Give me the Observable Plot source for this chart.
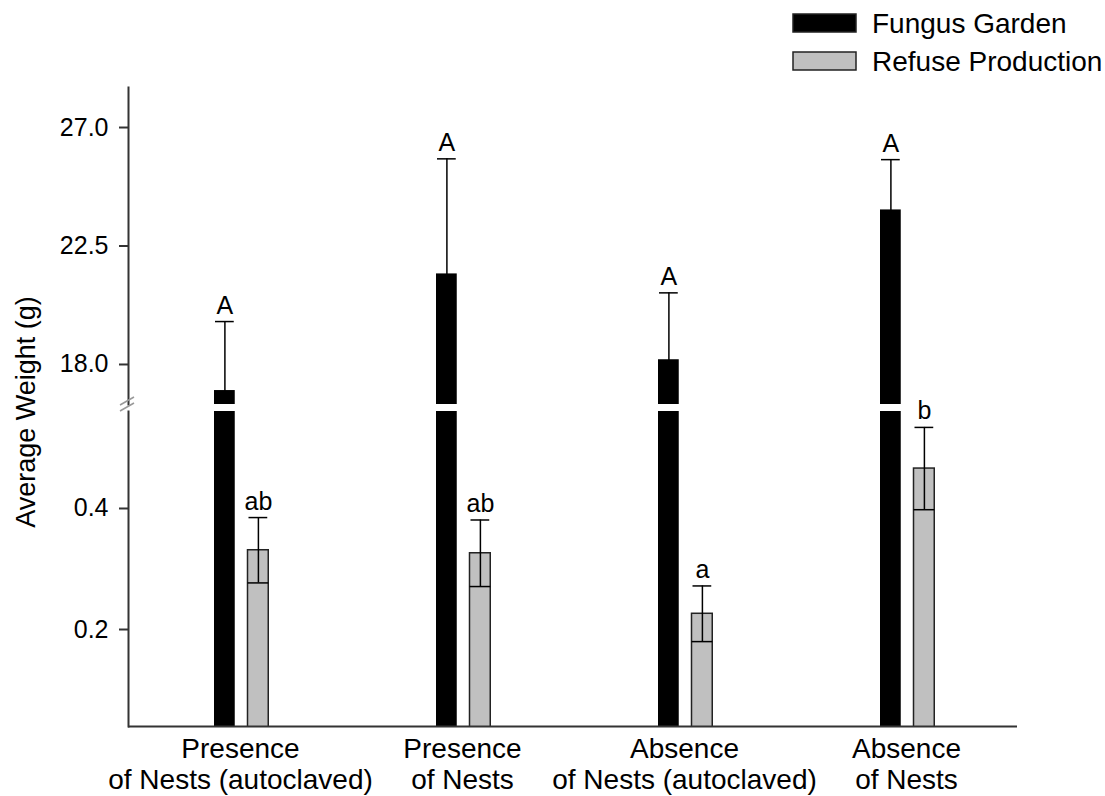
<!DOCTYPE html>
<html>
<head>
<meta charset="utf-8">
<script src="https://cdn.jsdelivr.net/npm/d3@7"></script>
<script src="https://cdn.jsdelivr.net/npm/@observablehq/plot@0.6"></script>
<style>
  body { margin: 0; background: #fff; }
  #wrap { position: relative; width: 1105px; height: 796px; font-family: "Liberation Sans", Arial, sans-serif; background: #fff; overflow: hidden; }
  #upper { position: absolute; left: 0; top: 0; }
  #lower { position: absolute; left: 0; top: 411px; }
  #overlay { position: absolute; left: 0; top: 0; pointer-events: none; }
</style>
</head>
<body>
<div id="wrap">
  <div id="upper"></div>
  <div id="lower"></div>
  <svg id="overlay" width="1105" height="796"></svg>
</div>
<script>
// ---- data ----
const categories = [
  "Presence\nof Nests (autoclaved)",
  "Presence\nof Nests",
  "Absence\nof Nests (autoclaved)",
  "Absence\nof Nests"
];
const seriesNames = ["Fungus Garden", "Refuse Production"];
const fungusMean = [17.01, 21.44, 18.18, 23.87];
const fungusSE = [2.62, 4.37, 2.54, 1.91];
const fungusLetters = ["A", "A", "A", "A"];
const refuseMean = [0.331, 0.326, 0.226, 0.466];
const refuseSE = [0.054, 0.055, 0.046, 0.068];
const refuseLetters = ["ab", "ab", "a", "b"];
const upperTicks = [18.0, 22.5, 27.0];
const lowerTicks = [0.2, 0.4];
const upperDomain = [16.48, 28.52];
const lowerDomain = [0.0397, 0.5603];
const yLabel = "Average Weight (g)";

// ---- tables ----
const fungus = categories.map((c, i) => ({cat: c, mean: fungusMean[i], se: fungusSE[i], letter: fungusLetters[i]}));
const refuse = categories.map((c, i) => ({cat: c, mean: refuseMean[i], se: refuseSE[i], letter: refuseLetters[i]}));

const FONT = '"Liberation Sans", Arial, sans-serif';
const AXIS = "#333";
const GREY = "#c0c0c0";
const W = 1105;
const common = {
  width: W,
  marginLeft: 128,
  marginRight: 88,
  x: {type: "band", domain: categories, padding: 0},
  style: {fontFamily: FONT, fontSize: "25px", color: "#000", background: "transparent", overflow: "visible"}
};
// bar placement inside each category band (band width ~222)
const fIn = {insetLeft: 85, insetRight: 116.25};
const rIn = {insetLeft: 118.5, insetRight: 82.75};
const fDx = -15.6, rDx = 17.9;

const upper = Plot.plot({
  ...common,
  height: 404,
  marginTop: 87,
  marginBottom: 0,
  y: {domain: upperDomain},
  marks: [
    Plot.barY(fungus, {x: "cat", y1: 0, y2: "mean", fill: "#000", ...fIn, clip: true}),
    Plot.ruleX(fungus, {x: "cat", y1: d => d.mean - d.se, y2: d => d.mean + d.se, dx: fDx, stroke: "#000", strokeWidth: 1.5, clip: true}),
    Plot.tickY(fungus, {x: "cat", y: d => d.mean + d.se, insetLeft: 86, insetRight: 117.25, stroke: "#000", strokeWidth: 1.5}),
    Plot.text(fungus, {x: "cat", y: d => d.mean + d.se, text: "letter", dx: fDx, dy: -8, lineAnchor: "bottom", fontSize: 25}),
    Plot.frame({anchor: "left", stroke: AXIS, strokeWidth: 2}),
    Plot.axisY({ticks: upperTicks, tickFormat: d3.format(".1f"), tickSize: 9, tickPadding: 11, fontSize: 25, stroke: AXIS, strokeWidth: 2, label: null}),
    Plot.axisX({ticks: [], label: null})
  ]
});
document.getElementById("upper").appendChild(upper);

const lower = Plot.plot({
  ...common,
  height: 385,
  marginTop: 0,
  marginBottom: 70,
  y: {domain: lowerDomain},
  marks: [
    Plot.barY(fungus, {x: "cat", y1: 0, y2: "mean", fill: "#000", ...fIn, clip: true}),
    Plot.barY(refuse, {x: "cat", y1: 0, y2: "mean", fill: GREY, stroke: "#222", strokeWidth: 1.5, ...rIn, clip: true}),
    Plot.ruleX(refuse, {x: "cat", y1: d => d.mean - d.se, y2: d => d.mean + d.se, dx: rDx, stroke: "#000", strokeWidth: 1.5}),
    Plot.tickY(refuse, {x: "cat", y: d => d.mean + d.se, insetLeft: 119.5, insetRight: 83.75, stroke: "#000", strokeWidth: 1.5}),
    Plot.tickY(refuse, {x: "cat", y: d => d.mean - d.se, insetLeft: 118.5, insetRight: 82.75, stroke: "#000", strokeWidth: 1.5}),
    Plot.text(refuse, {x: "cat", y: d => d.mean + d.se, text: "letter", dx: rDx, dy: -8, lineAnchor: "bottom", fontSize: 25}),
    Plot.ruleY([lowerDomain[0]], {stroke: AXIS, strokeWidth: 2}),
    Plot.frame({anchor: "left", stroke: AXIS, strokeWidth: 2}),
    Plot.axisY({ticks: lowerTicks, tickFormat: d3.format(".1f"), tickSize: 9, tickPadding: 11, fontSize: 25, stroke: AXIS, strokeWidth: 2, label: null}),
    Plot.axisX({tickSize: 0, tickPadding: 9, fontSize: 28, lineHeight: 1.12, label: null})
  ]
});
document.getElementById("lower").appendChild(lower);

// ---- overlay: y label, axis-break marks, legend ----
const ov = d3.select("#overlay");
ov.append("text")
  .attr("transform", "translate(35,412) rotate(-90)")
  .attr("text-anchor", "middle")
  .attr("font-family", FONT).attr("font-size", 27).attr("fill", "#000")
  .text(yLabel);
[[120, 405, 134, 397], [120, 411, 134, 403]].forEach(([x1, y1, x2, y2]) => {
  ov.append("line").attr("x1", x1).attr("y1", y1).attr("x2", x2).attr("y2", y2)
    .attr("stroke", "#999").attr("stroke-width", 1.5);
});
const legendFills = ["#000", GREY];
seriesNames.forEach((name, i) => {
  const y = 14 + i * 38;
  ov.append("rect").attr("x", 793).attr("y", y).attr("width", 63).attr("height", 18)
    .attr("fill", legendFills[i]).attr("stroke", "#222").attr("stroke-width", 1.5);
  ov.append("text").attr("x", 872).attr("y", y + 19)
    .attr("font-family", FONT).attr("font-size", 28).attr("fill", "#000")
    .text(name);
});
</script>
</body>
</html>
